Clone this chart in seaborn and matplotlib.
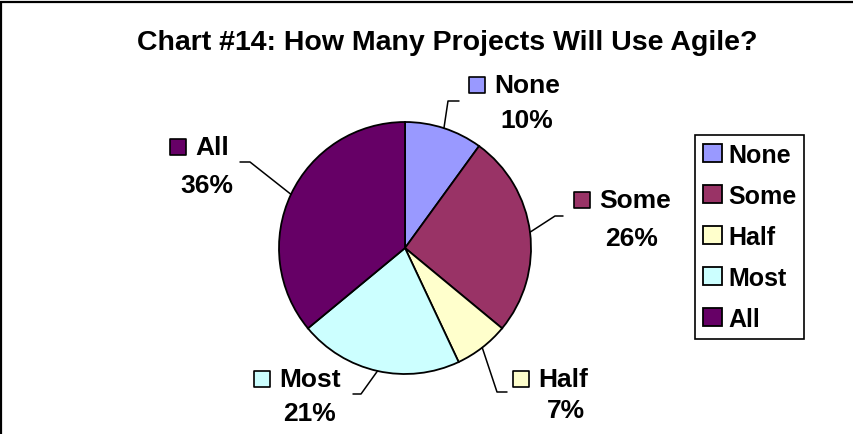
import matplotlib
matplotlib.use("Agg")
import numpy as np
import matplotlib.pyplot as plt
import seaborn as sns

categories = ["None", "Some", "Half", "Most", "All"]
shares = [10, 26, 7, 21, 36]
colors = ["#9999FF", "#993366", "#FFFFCC", "#CCFFFF", "#660066"]
title = "Chart #14: How Many Projects Will Use Agile?"

sns.set_style("white")
plt.rcParams['font.family'] = ['Liberation Sans', 'DejaVu Sans']
plt.rcParams['text.color'] = 'black'

W, H, DPI = 854, 435, 100
CX, CY, R = 405, 249, 126   # pie centre and radius in pixels


def px(x, y):
    return (x - CX) / R, (CY - y) / R


# label layout in pixels: name centre, percent centre, leader elbow, leader end
layout = {
    "None": ((527, 86), (527, 121), (448, 102), (459, 102)),
    "Some": ((635, 201), (632, 239), (555, 217), (563, 217)),
    "Half": ((563, 380), (566, 411), (497, 393), (507, 393)),
    "Most": ((310, 380), (310, 414), (361, 395), (353, 395)),
    "All": ((212, 148), (207, 186), (250, 163), (240, 163)),
}

fig = plt.figure(figsize=(W / DPI, H / DPI), dpi=DPI)
ax = fig.add_axes([0, 0, 1, 1])
wedges, _ = ax.pie(shares, colors=colors, startangle=90, counterclock=False, radius=1,
                   wedgeprops=dict(edgecolor='black', linewidth=1.3))
ax.set_xlim(-CX / R, (W - CX) / R)
ax.set_ylim(-(H - CY) / R, CY / R)
ax.set_aspect('equal')
ax.axis('off')

fs = 19
names = []
for w, cat, val in zip(wedges, categories, shares):
    name_c, pct_c, elbow, end = layout[cat]
    t = np.deg2rad((w.theta1 + w.theta2) / 2)
    ex, ey = np.cos(t), np.sin(t)
    bx, by = px(*elbow)
    qx, qy = px(*end)
    ax.plot([ex, bx, qx], [ey, by, qy], color='black', lw=1.1)
    nt = ax.text(*px(*name_c), cat, ha='center', va='center', fontsize=fs, fontweight='bold')
    ax.text(*px(*pct_c), f"{val}%", ha='center', va='center', fontsize=fs, fontweight='bold')
    names.append((nt, w))

fig.canvas.draw()
inv = ax.transData.inverted()
for nt, w in names:
    bb = nt.get_window_extent()
    sx, sy = inv.transform((bb.x0 - 17, (bb.y0 + bb.y1) / 2))
    ax.scatter([sx], [sy], marker='s', s=125, color=w.get_facecolor(),
               edgecolor='black', linewidth=1.2, zorder=5)

leg = ax.legend(wedges, categories, loc='upper left', bbox_to_anchor=(695 / W, 1 - 136 / H),
                bbox_transform=fig.transFigure, borderaxespad=0, frameon=True, fancybox=False,
                edgecolor='black', handlelength=0.75, handleheight=0.75, handletextpad=0.25,
                labelspacing=0.68, borderpad=0.32, prop=dict(size=18, weight='bold'))
leg.get_frame().set_linewidth(1.2)
leg.get_frame().set_alpha(1)

fig.text(447 / W, 1 - 43 / H, title, ha='center', va='center', fontsize=20.5, fontweight='bold')

fig.patches.append(plt.Rectangle((1.5 / W, -0.5), 2, 1.5 - 2.5 / H, transform=fig.transFigure,
                                 fill=False, edgecolor='black', linewidth=1.6))

fig.savefig("out.png", dpi=DPI)
